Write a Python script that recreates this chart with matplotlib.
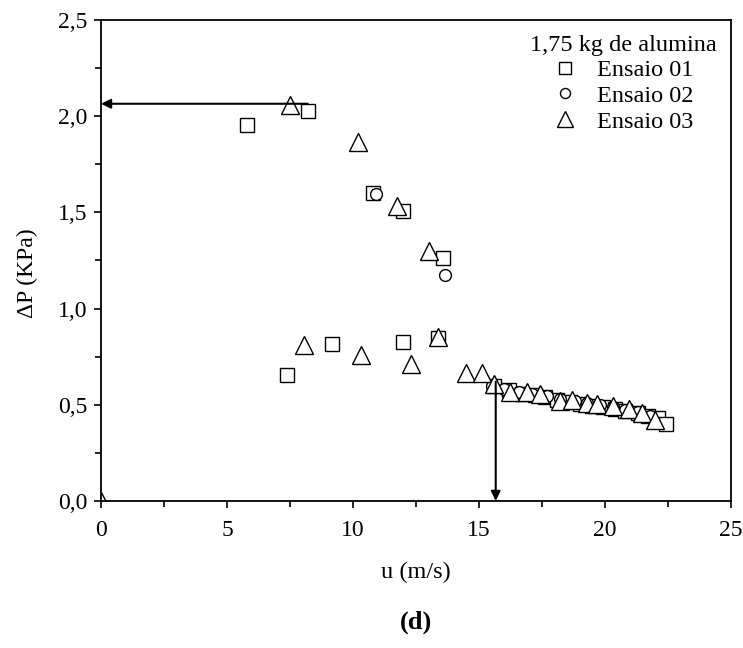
import matplotlib.pyplot as plt
from matplotlib.ticker import MultipleLocator, FuncFormatter

plt.rcParams['font.family'] = ['Liberation Serif', 'DejaVu Serif']

# Ensaio 01 (squares)
u1 = [5.81, 7.37, 8.23, 9.15, 10.81, 11.97, 12.0, 13.36, 13.58,
      15.6, 16.2, 16.7, 17.2, 17.6, 18.1, 18.6, 19.0, 19.5, 19.9,
      20.4, 20.8, 21.3, 21.7, 22.1, 22.4]
dp1 = [1.954, 0.655, 2.029, 0.814, 1.599, 1.507, 0.825, 0.846, 1.265,
       0.60, 0.575, 0.555, 0.55, 0.54, 0.525, 0.515, 0.505, 0.495, 0.49,
       0.48, 0.47, 0.455, 0.44, 0.43, 0.40]

# Ensaio 02 (circles)
u2 = [10.9, 13.65, 15.5, 16.0, 16.6, 17.1, 17.7, 18.2, 18.8, 19.3,
      19.8, 20.3, 20.8, 21.3, 21.8]
dp2 = [1.594, 1.175, 0.60, 0.58, 0.565, 0.555, 0.545, 0.53, 0.52, 0.51,
       0.50, 0.49, 0.475, 0.46, 0.44]

# Ensaio 03 (triangles)
u3 = [0.0, 7.48, 8.07, 10.21, 10.32, 11.73, 12.3, 13.03, 13.36, 14.47,
      15.1, 15.6, 16.23, 16.89, 17.4, 18.21, 18.68, 19.27, 19.67, 20.33,
      20.96, 21.46, 21.98]
dp3 = [0.0, 2.058, 0.811, 1.868, 0.759, 1.535, 0.71, 1.30, 0.85, 0.667,
       0.667, 0.607, 0.568, 0.568, 0.556, 0.521, 0.525, 0.511, 0.504, 0.494,
       0.477, 0.459, 0.421]

# arrows: (start u, start dP, end u, end dP)
arrow_h = (8.2, 2.065, 0.0, 2.065)
arrow_v = (15.66, 0.62, 15.66, 0.0)

fig = plt.figure(figsize=(7.43, 6.48), dpi=100)
ax = fig.add_axes([0.136, 0.227, 0.848, 0.742])

ax.plot(u1, dp1, 's', ms=10, mfc='white', mec='black', mew=1.0,
        linestyle='none', label='Ensaio 01')
ax.plot(u2, dp2, 'o', ms=8.5, mfc='white', mec='black', mew=1.0,
        linestyle='none', label='Ensaio 02')
ax.plot(u3, dp3, '^', ms=13, mfc='white', mec='black', mew=1.0,
        linestyle='none', label='Ensaio 03')

for x0, y0, x1, y1 in (arrow_h, arrow_v):
    ax.annotate('', xy=(x1, y1), xytext=(x0, y0),
                arrowprops=dict(arrowstyle='-|>', color='black', lw=1.5,
                                mutation_scale=14, shrinkA=0, shrinkB=0))

ax.set_xlim(0, 25)
ax.set_ylim(0, 2.5)
ax.xaxis.set_major_locator(MultipleLocator(5))
ax.xaxis.set_minor_locator(MultipleLocator(2.5))
ax.yaxis.set_major_locator(MultipleLocator(0.5))
ax.yaxis.set_minor_locator(MultipleLocator(0.25))
ax.yaxis.set_major_formatter(FuncFormatter(lambda v, p: f'{v:.1f}'.replace('.', ',')))
ax.tick_params(which='both', direction='out', labelsize=17, width=1.2)
ax.tick_params(which='major', length=5)
ax.tick_params(which='minor', length=4)
ax.tick_params(axis='x', pad=9)
ax.tick_params(axis='y', pad=5)
for s in ax.spines.values():
    s.set_linewidth(1.3)

ax.set_xlabel('u (m/s)', fontsize=17.5)
ax.set_ylabel('ΔP (KPa)', fontsize=17)
ax.xaxis.set_label_coords(0.5, -0.126)
ax.yaxis.set_label_coords(-0.1, 0.474)

leg = ax.legend(title='1,75 kg de alumina', loc='upper right', frameon=False,
                fontsize=17.5, title_fontsize=17.5, handlelength=1.0,
                handletextpad=0.8, markerscale=0.85, borderaxespad=0.2,
                labelspacing=0.15)

fig.text(0.56, 0.04, '(d)', fontsize=19, fontweight='bold',
         ha='center', va='center')

fig.savefig('out.png', dpi=100)
